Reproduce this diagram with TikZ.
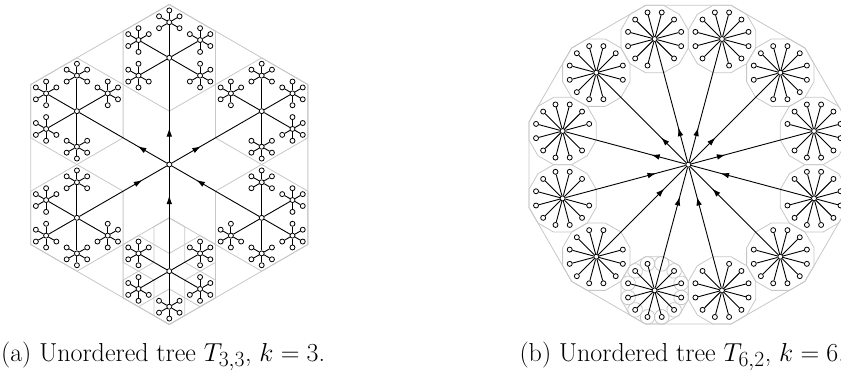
\documentclass[tikz,border=0pt]{standalone}
\usetikzlibrary{calc,arrows.meta,decorations.markings}
\tikzset{
  vtx/.style={circle,draw=black,fill=white,line width=0.8pt,inner sep=0pt,minimum size=5pt},
  edge/.style={draw=black,line width=0.9pt},
  region/.style={draw=black!22,line width=0.8pt},
  tipmark/.style={postaction={decorate,decoration={markings,mark=at position #1 with {\arrow{Latex[length=8.5pt,width=5.6pt]}}}}},
  outA/.style={edge,tipmark=33.5pt},
  inA/.style={edge,tipmark=-28.2pt},
  outB/.style={edge,tipmark=35.5pt},
  inB/.style={edge,tipmark=-30.5pt},
  capt/.style={anchor=base west,inner sep=0pt,font=\fontsize{24.88}{30}\selectfont,scale=1.045,transform shape}
}
\newcommand\hexreg[2]{\draw[region] ($(#1)+(30:#2)$) -- ($(#1)+(90:#2)$) -- ($(#1)+(150:#2)$) -- ($(#1)+(210:#2)$) -- ($(#1)+(270:#2)$) -- ($(#1)+(330:#2)$) -- cycle;}
\newcommand\dodreg[2]{\draw[region] ($(#1)+(15:#2)$) -- ($(#1)+(45:#2)$) -- ($(#1)+(75:#2)$) -- ($(#1)+(105:#2)$) -- ($(#1)+(135:#2)$) -- ($(#1)+(165:#2)$) -- ($(#1)+(195:#2)$) -- ($(#1)+(225:#2)$) -- ($(#1)+(255:#2)$) -- ($(#1)+(285:#2)$) -- ($(#1)+(315:#2)$) -- ($(#1)+(345:#2)$) -- cycle;}
\begin{document}
\begin{tikzpicture}[x=1pt,y=1pt]
\path[use as bounding box] (0,0) rectangle (841,373);
\clip (0,0) rectangle (841,373);
% centres
\coordinate (A) at (169.3,208.5);
\coordinate (B) at (688.3,208.3);
\foreach \i in {0,...,5}{\pgfmathsetmacro\ang{30+60*\i}\coordinate (A\i) at ($(A)+(\ang:106.67)$);}
\foreach \j in {0,...,5}{\pgfmathsetmacro\ang{30+60*\j}\coordinate (SA\j) at ($(A4)+(\ang:35.56)$);}
\foreach \i in {0,...,11}{\pgfmathsetmacro\ang{15+30*\i}\coordinate (B\i) at ($(B)+(\ang:130.13)$);}
\foreach \j in {0,...,11}{\pgfmathsetmacro\ang{15+30*\j}\coordinate (SB\j) at ($(B8)+(\ang:27.5)$);}
% regions
\hexreg{A}{160}
\foreach \i in {0,...,5}{\hexreg{A\i}{53.33}}
\foreach \j in {0,...,5}{\hexreg{SA\j}{17.78}}
\dodreg{B}{165}
\foreach \i in {0,...,11}{\dodreg{B\i}{34.87}}
\foreach \j in {0,...,11}{\dodreg{SB\j}{7.37}}
% tree (a)
\node[vtx] (a) at (A) {};
\foreach \i in {0,...,5}{
  \pgfmathtruncatemacro\pa{mod(\i+3,6)}
  \node[vtx] (a\i) at (A\i) {};
  \ifnum\i<3 \draw[outA] (a) -- (a\i); \else \draw[inA] (a\i) -- (a); \fi
  \foreach \j in {0,...,5}{
    \ifnum\j=\pa\relax\else
      \pgfmathtruncatemacro\pb{mod(\j+3,6)}
      \pgfmathsetmacro\bj{30+60*\j}
      \node[vtx] (a\i-\j) at ($(a\i)+(\bj:35.56)$) {};
      \draw[edge] (a\i) -- (a\i-\j);
      \foreach \l in {0,...,5}{
        \ifnum\l=\pb\relax\else
          \pgfmathsetmacro\cl{30+60*\l}
          \node[vtx] (a\i-\j-\l) at ($(a\i-\j)+(\cl:11.85)$) {};
          \draw[edge] (a\i-\j) -- (a\i-\j-\l);
        \fi}
    \fi}
}
% tree (b)
\node[vtx] (b) at (B) {};
\foreach \i in {0,...,11}{
  \pgfmathtruncatemacro\pa{mod(\i+6,12)}
  \node[vtx] (b\i) at (B\i) {};
  \ifnum\i<6 \draw[outB] (b) -- (b\i); \else \draw[inB] (b\i) -- (b); \fi
  \foreach \j in {0,...,11}{
    \ifnum\j=\pa\relax\else
      \pgfmathsetmacro\bj{15+30*\j}
      \node[vtx] (b\i-\j) at ($(b\i)+(\bj:27.5)$) {};
      \draw[edge] (b\i) -- (b\i-\j);
    \fi}
}
% captions
\node[capt] (capa) at (0.9,11.3) {(a) Unordered tree $T_{3,3}$, $k = 3$.};
\node[capt] (capb) at (519.3,11.3) {(b) Unordered tree $T_{6,2}$, $k = 6$.};
\end{tikzpicture}
\end{document}
